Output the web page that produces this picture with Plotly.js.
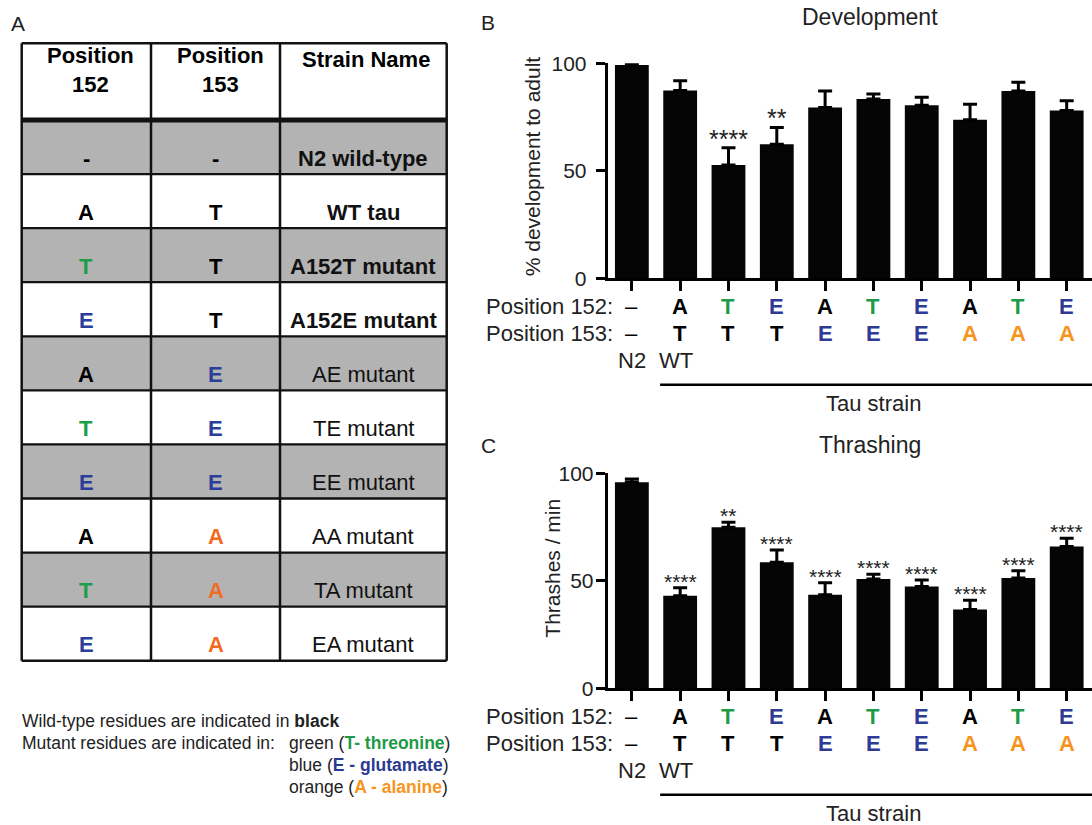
<!DOCTYPE html>
<html>
<head>
<meta charset="utf-8">
<script src="https://cdn.plot.ly/plotly-3.0.1.min.js"></script>
<style>html,body{margin:0;padding:0;background:#fff}#chart{width:1092px;height:825px}</style>
</head>
<body>
<div id="chart"></div>
<script>
// ---------------- DATA ----------------
const strains = ['N2', 'WT', 'A152T', 'A152E', 'AE', 'TE', 'EE', 'AA', 'TA', 'EA'];
const pos152 = ['–', 'A', 'T', 'E', 'A', 'T', 'E', 'A', 'T', 'E'];
const pos153 = ['–', 'T', 'T', 'T', 'E', 'E', 'E', 'A', 'A', 'A'];

const devMean = [99.2, 87.3, 52.7, 62.3, 79.5, 83.4, 80.5, 73.8, 87.1, 78.0];
const devSem  = [0.8, 4.6, 8.0, 7.8, 7.6, 2.3, 3.7, 7.1, 4.1, 4.6];
const devSig  = ['', '', '****', '**', '', '', '', '', '', ''];

const thrMean = [95.8, 43.1, 74.9, 58.6, 43.5, 50.8, 47.3, 36.7, 51.3, 65.9];
const thrSem  = [1.5, 3.7, 2.3, 5.7, 5.6, 2.3, 3.1, 4.2, 3.4, 3.9];
const thrSig  = ['', '****', '**', '****', '****', '****', '****', '****', '****', '****'];

const tableHeaders = [['Position', '152'], ['Position', '153'], ['Strain Name']];
const table152 = ['-', 'A', 'T', 'E', 'A', 'T', 'E', 'A', 'T', 'E'];
const table153 = ['-', 'T', 'T', 'T', 'E', 'E', 'E', 'A', 'A', 'A'];
const tableNames = ['N2 wild-type', 'WT tau', 'A152T mutant', 'A152E mutant', 'AE mutant',
                    'TE mutant', 'EE mutant', 'AA mutant', 'TA mutant', 'EA mutant'];
const tableNameBold = [true, true, true, true, false, false, false, false, false, false];

// ---------------- STYLE / LAYOUT CONSTANTS ----------------
const FONT = '"Liberation Sans", Arial, Helvetica, sans-serif';
const INK = '#222';
const W = 1092, H = 825;
const fx = p => p / W;
const fy = p => 1 - p / H;

const WT152 = 'A', WT153 = 'T';
const PANEL_PAL = {T: '#1f9a48', E: '#2e3a94', A: '#f7941d'};
const TABLE_PAL = {T: '#1a9e4a', E: '#2b3e9a', A: '#f26b23'};
function resColor(letter, wt, pal) {
  if (letter === wt || !(letter in pal)) return '#000';
  return pal[letter];
}

const axisLeftPx = 607.7, firstCenterPx = 631.7, catSpacingPx = 48.33;
const xRange = [-0.5, (W - firstCenterPx) / catSpacingPx];

const panels = [
  {key: '', top: 63.3, bottom: 278.3, mean: devMean, sem: devSem, sig: devSig,
   title: 'Development', titleY: 17, ytitle: '% development to adult', ytitleX: 533.3, ytitleY: 166,
   letter: 'B', letterY: 22.5, sigFont: 25, sigGap: 14.6, standoff: 5},
  {key: '2', top: 473.3, bottom: 688.3, mean: thrMean, sem: thrSem, sig: thrSig,
   title: 'Thrashing', titleY: 445, ytitle: 'Thrashes / min', ytitleX: 551.7, ytitleY: 568,
   letter: 'C', letterY: 445.5, sigFont: 21, sigGap: 11.2, standoff: -2}
];

const traces = [];
const annotations = [];
const shapes = [];
const layout = {
  width: W, height: H,
  margin: {l: 0, r: 0, t: 0, b: 0},
  paper_bgcolor: '#fff', plot_bgcolor: 'rgba(0,0,0,0)',
  showlegend: false, bargap: 0.3,
  font: {family: FONT, color: INK},
  hovermode: false
};

function txt(o) {
  return Object.assign({showarrow: false, xanchor: 'center', yanchor: 'middle'}, o);
}

panels.forEach(p => {
  const xa = 'x' + p.key, ya = 'y' + p.key;
  const plotH = p.bottom - p.top;
  layout['xaxis' + p.key] = {
    domain: [fx(axisLeftPx), 1], anchor: ya, type: 'category', range: xRange,
    showline: true, linewidth: 3, linecolor: '#000',
    ticks: 'outside', ticklen: 10, tickwidth: 3, tickcolor: '#000',
    showticklabels: false, showgrid: false, zeroline: false, fixedrange: true
  };
  layout['yaxis' + p.key] = {
    domain: [fy(p.bottom), fy(p.top)], anchor: xa, range: [0, 100],
    tickmode: 'array', tickvals: [0, 50, 100],
    showline: true, linewidth: 3, linecolor: '#000',
    ticks: 'outside', ticklen: 9, tickwidth: 3, tickcolor: '#000',
    ticklabelstandoff: p.standoff,
    tickfont: {family: FONT, size: 21, color: INK},
    showgrid: false, zeroline: false, fixedrange: true
  };
  traces.push({
    type: 'bar', x: strains, y: p.mean, xaxis: xa, yaxis: ya,
    marker: {color: '#050505', line: {width: 0}},
    error_y: {type: 'data', symmetric: false, array: p.sem, arrayminus: p.sem.map(() => 0),
              color: '#000', thickness: 3, width: 7},
    cliponaxis: false, hoverinfo: 'skip'
  });
  // significance stars
  p.sig.forEach((s, i) => {
    if (!s) return;
    annotations.push(txt({xref: xa, yref: ya, x: strains[i], y: p.mean[i] + p.sem[i],
      text: s, yshift: p.sigGap - 0.22 * p.sigFont,
      font: {family: FONT, size: p.sigFont, color: INK}}));
  });
  const yd = ya + ' domain';
  const off = px => -px / plotH;
  // residue rows
  annotations.push(txt({xref: xa, yref: yd, x: -0.355, y: off(28.4), xanchor: 'right',
    text: 'Position 152:', font: {family: FONT, size: 22, color: INK}}));
  annotations.push(txt({xref: xa, yref: yd, x: -0.355, y: off(55), xanchor: 'right',
    text: 'Position 153:', font: {family: FONT, size: 22, color: INK}}));
  strains.forEach((s, i) => {
    const isDash = pos152[i] === '–';
    annotations.push(txt({xref: xa, yref: yd, x: s, y: off(28.4), text: isDash ? pos152[i] : '<b>' + pos152[i] + '</b>',
      font: {family: FONT, size: 22, color: resColor(pos152[i], WT152, PANEL_PAL)}}));
    annotations.push(txt({xref: xa, yref: yd, x: s, y: off(55), text: isDash ? pos153[i] : '<b>' + pos153[i] + '</b>',
      font: {family: FONT, size: 22, color: resColor(pos153[i], WT153, PANEL_PAL)}}));
  });
  annotations.push(txt({xref: xa, yref: yd, x: strains[0], y: off(82), text: 'N2',
    font: {family: FONT, size: 22, color: INK}}));
  annotations.push(txt({xref: xa, yref: yd, x: strains[1], y: off(82), xshift: -4, text: 'WT',
    font: {family: FONT, size: 22, color: INK}}));
  shapes.push({type: 'line', xref: xa, yref: yd, x0: 0.585, x1: xRange[1], y0: off(106.5), y1: off(106.5),
    line: {color: '#000', width: 2.6}});
  annotations.push(txt({xref: xa, yref: yd, x: 5, y: off(125.5), text: 'Tau strain',
    font: {family: FONT, size: 22, color: INK}}));
  // titles
  annotations.push(txt({xref: 'paper', yref: 'paper', x: fx(870), y: fy(p.titleY), text: p.title,
    font: {family: FONT, size: 23, color: INK}}));
  annotations.push(txt({xref: 'paper', yref: 'paper', x: fx(p.ytitleX), y: fy(p.ytitleY), text: p.ytitle,
    textangle: -90, font: {family: FONT, size: 21, color: INK}}));
  annotations.push(txt({xref: 'paper', yref: 'paper', x: fx(488), y: fy(p.letterY), text: p.letter,
    font: {family: FONT, size: 21, color: INK}}));
});

// ---------------- TABLE (panel A) ----------------
const tLeft = 21.7, tTop = 43.3, tRight = 446.7, tBottom = 660.7, tPad = 4;
const tW = tRight - tLeft, tH = tBottom - tTop;
const colEdges = [0, 129.3, 258.3, tW];
const headerH = 76.7;
const rowH = (tH - headerH) / tableNames.length;
layout.xaxis3 = {domain: [fx(tLeft - tPad), fx(tRight + tPad)], range: [-tPad, tW + tPad], anchor: 'y3',
  visible: false, fixedrange: true};
layout.yaxis3 = {domain: [fy(tBottom + tPad), fy(tTop - tPad)], range: [tH + tPad, -tPad], anchor: 'x3',
  visible: false, fixedrange: true};
traces.push({type: 'scatter', x: [0], y: [0], xaxis: 'x3', yaxis: 'y3', mode: 'markers',
  marker: {opacity: 0}, hoverinfo: 'skip'});

const colCenter = c => (colEdges[c] + colEdges[c + 1]) / 2;
tableNames.forEach((name, i) => {
  const y0 = headerH + i * rowH, y1 = y0 + rowH;
  if (i % 2 === 0) {
    shapes.push({type: 'rect', xref: 'x3', yref: 'y3', x0: 0, x1: tW, y0: y0, y1: y1,
      fillcolor: '#b3b3b3', line: {width: 0}, layer: 'below'});
  }
  const yc = y1 - 16;
  annotations.push(txt({xref: 'x3', yref: 'y3', x: colCenter(0), y: yc, text: '<b>' + table152[i] + '</b>',
    font: {family: FONT, size: 22, color: resColor(table152[i], WT152, TABLE_PAL)}}));
  annotations.push(txt({xref: 'x3', yref: 'y3', x: colCenter(1), y: yc, text: '<b>' + table153[i] + '</b>',
    font: {family: FONT, size: 22, color: resColor(table153[i], WT153, TABLE_PAL)}}));
  annotations.push(txt({xref: 'x3', yref: 'y3', x: colCenter(2), y: yc,
    text: tableNameBold[i] ? '<b>' + name + '</b>' : name,
    font: {family: FONT, size: 22, color: '#111'}}));
  if (i < tableNames.length - 1) {
    shapes.push({type: 'line', xref: 'x3', yref: 'y3', x0: 0, x1: tW, y0: y1, y1: y1,
      line: {color: '#111', width: 2.3}});
  }
});
tableHeaders.forEach((lines, c) => {
  const shift = c < 2 ? 4.5 : 2.5;
  const lineGap = 28.6;                       // Plotly's line spacing at 22px
  const firstLine = 15.9;                     // cap centre of first header line
  const yMid = firstLine + (lines.length - 1) * (22.1 - lineGap / 2 + lineGap / 2) / 2
             - (lines.length - 1) * (lineGap - 22.1) / 2 + (lines.length - 1) * (lineGap - 22.1) / 2;
  const y = lines.length > 1 ? firstLine + 22.1 / 2 : firstLine;
  annotations.push(txt({xref: 'x3', yref: 'y3', x: colCenter(c), xshift: shift, y: y,
    text: '<b>' + lines.join('<br>') + '</b>', font: {family: FONT, size: 22, color: '#000'}}));
});
// grid lines
colEdges.forEach(xe => {
  shapes.push({type: 'line', xref: 'x3', yref: 'y3', x0: xe, x1: xe, y0: 0, y1: tH,
    line: {color: '#111', width: 2.5}});
});
[0, tH].forEach(ye => {
  shapes.push({type: 'line', xref: 'x3', yref: 'y3', x0: 0, x1: tW, y0: ye, y1: ye,
    line: {color: '#111', width: 2.5}});
});
shapes.push({type: 'line', xref: 'x3', yref: 'y3', x0: 0, x1: tW, y0: headerH, y1: headerH,
  line: {color: '#111', width: 5}});
annotations.push(txt({xref: 'paper', yref: 'paper', x: fx(17.5), y: fy(23.7), text: 'A',
  font: {family: FONT, size: 21, color: INK}}));

// key text below table
const keyFont = {family: FONT, size: 17.5, color: INK};
annotations.push(txt({xref: 'paper', yref: 'paper', x: fx(20), y: fy(720.7), xanchor: 'left',
  text: 'Wild-type residues are indicated in <b>black</b>', font: keyFont}));
annotations.push(txt({xref: 'paper', yref: 'paper', x: fx(20), y: fy(742.7), xanchor: 'left',
  text: 'Mutant residues are indicated in:', font: keyFont}));
const keyLines = [
  ['green', 'T- threonine', '#1f9a48', 742.7],
  ['blue', 'E - glutamate', '#2b3990', 764.5],
  ['orange', 'A - alanine', '#f7941d', 786.5]
];
keyLines.forEach(k => {
  annotations.push(txt({xref: 'paper', yref: 'paper', x: fx(287), y: fy(k[3]), xanchor: 'left',
    text: k[0] + ' (<span style="color:' + k[2] + ';font-weight:bold">' + k[1] + '</span>)', font: keyFont}));
});

layout.annotations = annotations;
layout.shapes = shapes;

Plotly.newPlot('chart', traces, layout, {staticPlot: true, displayModeBar: false});
</script>
</body>
</html>
